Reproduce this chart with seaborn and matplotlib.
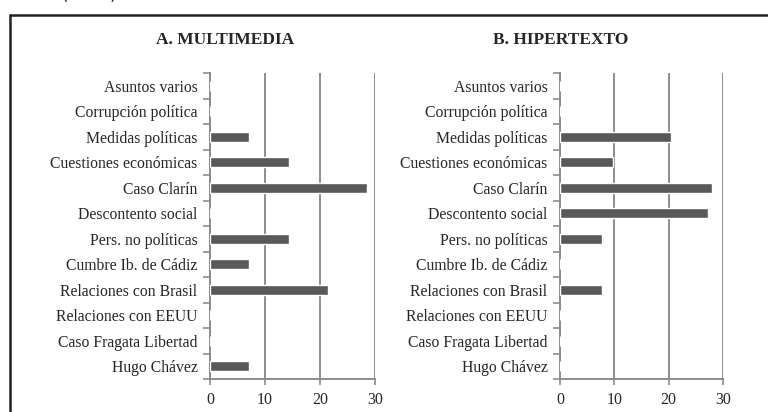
import matplotlib
matplotlib.use("Agg")
import matplotlib.pyplot as plt
from matplotlib.lines import Line2D
import seaborn as sns
import numpy as np

# categories, top to bottom
temas = ['Asuntos varios', 'Corrupción política', 'Medidas políticas',
         'Cuestiones económicas', 'Caso Clarín', 'Descontento social',
         'Pers. no políticas', 'Cumbre Ib. de Cádiz', 'Relaciones con Brasil',
         'Relaciones con EEUU', 'Caso Fragata Libertad', 'Hugo Chávez']

# percentages
multimedia = [0, 0, 7.1, 14.3, 28.6, 0, 14.3, 7.1, 21.4, 0, 0, 7.1]
hipertexto = [0, 0, 20.5, 9.7, 28.0, 27.3, 7.7, 0, 7.7, 0, 0, 0]

titulos = ['A. MULTIMEDIA', 'B. HIPERTEXTO']
xticks = [0, 10, 20, 30]

sns.set_style('white')
plt.rcParams['font.family'] = ['Liberation Serif', 'DejaVu Serif']

fig = plt.figure(figsize=(7.68, 4.12), dpi=100)
bottom = 1 - 379 / 412
height = (379 - 73) / 412
ax1 = fig.add_axes([210 / 768, bottom, 165 / 768, height])
ax2 = fig.add_axes([560 / 768, bottom, 163 / 768, height])

grey = '#8c8c8c'
for ax, vals, tit, tx in zip([ax1, ax2], [multimedia, hipertexto], titulos,
                             [225, 561]):
    sns.barplot(x=vals, y=temas, ax=ax, color='#595959', width=0.4,
                saturation=1, zorder=3)
    ax.set_xlim(0, 30)
    ax.set_xticks(xticks)
    ax.xaxis.grid(True, color=grey, linewidth=1.4, zorder=0)
    ax.set_axisbelow(True)
    for s in ['top', 'right']:
        ax.spines[s].set_visible(False)
    for s in ['left', 'bottom']:
        ax.spines[s].set_color(grey)
        ax.spines[s].set_linewidth(1.4)
    ax.tick_params(axis='x', length=4, width=1.2, color=grey, labelsize=11.5,
                   pad=5, bottom=True)
    ax.tick_params(axis='y', which='major', length=0, labelsize=11.3, pad=9)
    ax.set_yticks(np.arange(-0.5, len(temas)), minor=True)
    ax.tick_params(axis='y', which='minor', length=5, width=1.2, color=grey,
                   left=True)
    ax.set_xlabel('')
    ax.set_ylabel('')
    fig.text(tx / 768, 1 - 40 / 412, tit, ha='center', va='center',
             fontsize=12.5, fontweight='bold')

# frame around the figure (cut off at the right and bottom)
fig.add_artist(Line2D([10 / 768, 1.0], [1 - 15 / 412, 1 - 15 / 412],
                      color='#222222', linewidth=1.8, transform=fig.transFigure))
fig.add_artist(Line2D([10 / 768, 10 / 768], [0.0, 1 - 15 / 412],
                      color='#222222', linewidth=1.8, transform=fig.transFigure))
# caption cut by the top edge, as in the source
fig.text(89 / 768, 1 + 0.5 / 412, '(en %)', ha='center', va='baseline',
         fontsize=12, family=['DejaVu Sans'])

fig.savefig('out.png', dpi=100)
